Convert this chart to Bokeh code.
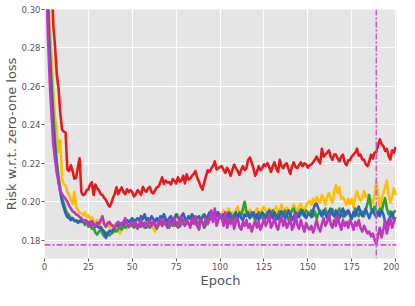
from bokeh.plotting import figure
from bokeh.models import Range1d, FixedTicker, PrintfTickFormatter, Span
from bokeh.embed import file_html
from bokeh.resources import INLINE

red = [
    0.400, 0.372, 0.346, 0.318, 0.292, 0.281, 0.266, 0.259, 0.246, 0.2375,
    0.2365, 0.236, 0.217, 0.216, 0.219, 0.216, 0.212, 0.2125, 0.218, 0.2226,
    0.205, 0.2035, 0.204, 0.206, 0.2065, 0.209, 0.2102, 0.2035, 0.209, 0.207,
    0.206, 0.204, 0.2035, 0.202, 0.201, 0.199, 0.1975, 0.199, 0.202, 0.204,
    0.2075, 0.204, 0.206, 0.2075, 0.205, 0.204, 0.2065, 0.205, 0.206, 0.205,
    0.2027, 0.204, 0.206, 0.205, 0.2036, 0.2077, 0.206, 0.2052, 0.207, 0.2077,
    0.205, 0.2044, 0.206, 0.2075, 0.208, 0.2102, 0.2127, 0.2093, 0.211, 0.210,
    0.2102, 0.209, 0.2118, 0.211, 0.2095, 0.2127, 0.2105, 0.211, 0.2135, 0.2095,
    0.2143, 0.2115, 0.212, 0.2135, 0.2145, 0.216, 0.2125, 0.2105, 0.208, 0.2063,
    0.210, 0.2135, 0.2164, 0.2155, 0.2174, 0.2185, 0.221, 0.2168, 0.2175, 0.218,
    0.2185, 0.2165, 0.215, 0.2177, 0.216, 0.2135, 0.2165, 0.2193, 0.2175, 0.216,
    0.214, 0.2165, 0.2185, 0.2165, 0.2175, 0.2218, 0.223, 0.2205, 0.2175, 0.2135,
    0.2155, 0.2185, 0.2165, 0.2175, 0.2195, 0.2185, 0.2201, 0.218, 0.2155, 0.2185,
    0.2205, 0.2175, 0.2155, 0.2218, 0.2185, 0.2175, 0.2195, 0.220, 0.217, 0.2145,
    0.2185, 0.2205, 0.218, 0.2175, 0.219, 0.2205, 0.2185, 0.220, 0.2195, 0.2178,
    0.219, 0.2195, 0.2205, 0.2218, 0.2235, 0.2215, 0.220, 0.2276, 0.2235, 0.2245,
    0.2255, 0.2268, 0.2235, 0.2218, 0.2245, 0.2245, 0.2225, 0.221, 0.2235, 0.2245,
    0.2205, 0.219, 0.2215, 0.2218, 0.2235, 0.2245, 0.2255, 0.2276, 0.224, 0.2245,
    0.222, 0.2218, 0.2195, 0.2185, 0.221, 0.2245, 0.2225, 0.2255, 0.226, 0.2295,
    0.2325, 0.230, 0.229, 0.2265, 0.2275, 0.224, 0.222, 0.2268, 0.2255, 0.2285,
]

yellow = [
    0.360, 0.315, 0.291, 0.276, 0.258, 0.244, 0.236, 0.226, 0.232, 0.212,
    0.209, 0.2085, 0.205, 0.2035, 0.201, 0.199, 0.2052, 0.1975, 0.196, 0.1945,
    0.194, 0.193, 0.1945, 0.192, 0.193, 0.191, 0.192, 0.190, 0.189, 0.1905,
    0.188, 0.189, 0.1915, 0.188, 0.1875, 0.189, 0.187, 0.1865, 0.188, 0.187,
    0.189, 0.186, 0.1835, 0.1865, 0.189, 0.187, 0.186, 0.188, 0.1875, 0.1885,
    0.188, 0.1895, 0.187, 0.189, 0.1905, 0.188, 0.1895, 0.1875, 0.1905, 0.189,
    0.1875, 0.186, 0.1845, 0.188, 0.1905, 0.1895, 0.192, 0.190, 0.1885, 0.1905,
    0.1915, 0.189, 0.1875, 0.1905, 0.1915, 0.1935, 0.1905, 0.189, 0.1915, 0.190,
    0.1885, 0.1915, 0.1925, 0.190, 0.1905, 0.1925, 0.191, 0.1895, 0.1915, 0.193,
    0.1915, 0.190, 0.1925, 0.1935, 0.1915, 0.194, 0.1925, 0.1945, 0.1925, 0.1935,
    0.1935, 0.1955, 0.1925, 0.194, 0.1965, 0.193, 0.1945, 0.1925, 0.1955, 0.1975,
    0.194, 0.1925, 0.1955, 0.1965, 0.1945, 0.1935, 0.196, 0.1945, 0.1925, 0.195,
    0.1965, 0.1945, 0.1935, 0.196, 0.1975, 0.1955, 0.194, 0.1965, 0.195, 0.1935,
    0.196, 0.1975, 0.1945, 0.1955, 0.1985, 0.196, 0.1945, 0.197, 0.1955, 0.1935,
    0.1965, 0.1985, 0.1965, 0.195, 0.1975, 0.199, 0.1965, 0.1955, 0.198, 0.1995,
    0.2005, 0.1985, 0.2015, 0.199, 0.2025, 0.2005, 0.1995, 0.2035, 0.2015, 0.1985,
    0.2025, 0.2045, 0.2015, 0.1995, 0.2055, 0.2085, 0.2045, 0.2075, 0.2015, 0.2025,
    0.2005, 0.1985, 0.2015, 0.199, 0.2015, 0.197, 0.2025, 0.2055, 0.2025, 0.2005,
    0.2015, 0.2055, 0.2025, 0.2035, 0.2005, 0.201, 0.199, 0.2035, 0.2102, 0.2035,
    0.1975, 0.2015, 0.2045, 0.2075, 0.211, 0.2035, 0.1995, 0.2025, 0.207, 0.2035,
]

green = [
    0.350, 0.305, 0.280, 0.262, 0.246, 0.232, 0.221, 0.213, 0.207, 0.202,
    0.199, 0.196, 0.194, 0.193, 0.1915, 0.1915, 0.1905, 0.190, 0.189, 0.1895,
    0.1895, 0.190, 0.188, 0.1895, 0.187, 0.1885, 0.186, 0.1865, 0.184, 0.183,
    0.1845, 0.1855, 0.1835, 0.182, 0.184, 0.1835, 0.1825, 0.1835, 0.184, 0.1855,
    0.1845, 0.186, 0.1865, 0.1855, 0.1875, 0.1865, 0.188, 0.187, 0.1885, 0.1875,
    0.1865, 0.1875, 0.186, 0.188, 0.187, 0.1885, 0.1865, 0.189, 0.1875, 0.1865,
    0.1885, 0.1895, 0.1875, 0.186, 0.188, 0.1895, 0.1875, 0.1885, 0.190, 0.1875,
    0.1865, 0.189, 0.1895, 0.1875, 0.188, 0.1895, 0.187, 0.1885, 0.190, 0.1905,
    0.1885, 0.189, 0.1875, 0.1895, 0.191, 0.1885, 0.1875, 0.1895, 0.1905, 0.189,
    0.1865, 0.188, 0.1905, 0.1925, 0.191, 0.1935, 0.1915, 0.1945, 0.1925, 0.193,
    0.191, 0.1925, 0.1905, 0.1895, 0.1925, 0.194, 0.1915, 0.1905, 0.193, 0.1915,
    0.1945, 0.1925, 0.1965, 0.200, 0.195, 0.1935, 0.1915, 0.1945, 0.1925, 0.1905,
    0.193, 0.1945, 0.1915, 0.1935, 0.1905, 0.1925, 0.1945, 0.1915, 0.1935, 0.1955,
    0.1925, 0.191, 0.1935, 0.195, 0.1925, 0.1935, 0.1955, 0.1925, 0.1905, 0.1935,
    0.1955, 0.1965, 0.1935, 0.192, 0.1945, 0.196, 0.1935, 0.1925, 0.1955, 0.1945,
    0.1935, 0.1955, 0.1925, 0.195, 0.1915, 0.1935, 0.1955, 0.1925, 0.194, 0.1965,
    0.1935, 0.1915, 0.1945, 0.196, 0.193, 0.1915, 0.1945, 0.1965, 0.1935, 0.192,
    0.195, 0.1935, 0.1955, 0.1925, 0.191, 0.194, 0.1965, 0.1935, 0.1925, 0.1955,
    0.1945, 0.1925, 0.196, 0.199, 0.2035, 0.1965, 0.1945, 0.1975, 0.1955, 0.193,
    0.1965, 0.1945, 0.199, 0.2019, 0.1965, 0.1935, 0.195, 0.1925, 0.1945, 0.1955,
]

blue = [
    0.340, 0.295, 0.275, 0.255, 0.238, 0.226, 0.217, 0.210, 0.205, 0.200,
    0.197, 0.194, 0.192, 0.1915, 0.1905, 0.1915, 0.190, 0.1905, 0.1895, 0.190,
    0.1905, 0.1895, 0.1905, 0.190, 0.189, 0.1895, 0.188, 0.1885, 0.187, 0.1875,
    0.1865, 0.187, 0.1855, 0.1845, 0.1812, 0.1835, 0.185, 0.1845, 0.1855, 0.1865,
    0.188, 0.1875, 0.1885, 0.189, 0.188, 0.1895, 0.1905, 0.1895, 0.1905, 0.1915,
    0.190, 0.1905, 0.1915, 0.190, 0.1925, 0.191, 0.1935, 0.1905, 0.1915, 0.190,
    0.1925, 0.191, 0.1895, 0.1915, 0.190, 0.1925, 0.1915, 0.1935, 0.191, 0.1895,
    0.1915, 0.1925, 0.190, 0.1915, 0.1935, 0.192, 0.1905, 0.1925, 0.194, 0.1915,
    0.1905, 0.1925, 0.191, 0.1935, 0.192, 0.1905, 0.1915, 0.1925, 0.1905, 0.192,
    0.1935, 0.191, 0.1925, 0.1945, 0.192, 0.1915, 0.1935, 0.1925, 0.1945, 0.1925,
    0.192, 0.1935, 0.1915, 0.1925, 0.1945, 0.1915, 0.1905, 0.193, 0.1945, 0.192,
    0.1935, 0.1915, 0.1905, 0.1935, 0.1925, 0.1945, 0.1915, 0.193, 0.1945, 0.192,
    0.1935, 0.1905, 0.1925, 0.1945, 0.1935, 0.1915, 0.1925, 0.1955, 0.193, 0.1915,
    0.1945, 0.1925, 0.191, 0.193, 0.195, 0.1935, 0.1915, 0.1925, 0.1955, 0.1935,
    0.1905, 0.1925, 0.1945, 0.1935, 0.192, 0.194, 0.1955, 0.193, 0.1915, 0.1935,
    0.1935, 0.192, 0.1955, 0.1985, 0.199, 0.1965, 0.1945, 0.1925, 0.1955, 0.1935,
    0.1915, 0.195, 0.1965, 0.1935, 0.1925, 0.1955, 0.1935, 0.1915, 0.1945, 0.1965,
    0.1925, 0.1945, 0.1955, 0.1935, 0.1915, 0.1945, 0.1925, 0.1955, 0.1975, 0.194,
    0.1925, 0.1945, 0.1965, 0.1935, 0.1915, 0.1945, 0.196, 0.1935, 0.192, 0.1945,
    0.1925, 0.1955, 0.1935, 0.1895, 0.1875, 0.1905, 0.1925, 0.1945, 0.1905, 0.192,
]

magenta = [
    0.318, 0.285, 0.262, 0.245, 0.230, 0.222, 0.215, 0.2105, 0.2055, 0.204,
    0.2025, 0.2015, 0.200, 0.198, 0.1965, 0.195, 0.1945, 0.1935, 0.193, 0.192,
    0.1915, 0.190, 0.1905, 0.1885, 0.1895, 0.1875, 0.190, 0.1885, 0.1875, 0.189,
    0.1885, 0.1905, 0.1925, 0.1885, 0.187, 0.189, 0.1895, 0.188, 0.1875, 0.1865,
    0.1885, 0.1895, 0.1885, 0.1875, 0.1895, 0.1915, 0.1885, 0.187, 0.1885, 0.1895,
    0.1875, 0.1895, 0.186, 0.188, 0.1905, 0.1875, 0.189, 0.1865, 0.1885, 0.1905,
    0.1875, 0.1895, 0.188, 0.1865, 0.1895, 0.191, 0.1875, 0.1905, 0.1885, 0.1865,
    0.1905, 0.1895, 0.1875, 0.1915, 0.1885, 0.1865, 0.190, 0.1925, 0.1885, 0.1875,
    0.1905, 0.189, 0.1865, 0.191, 0.1885, 0.1925, 0.1875, 0.1855, 0.1905, 0.1895,
    0.187, 0.1915, 0.1885, 0.1905, 0.1955, 0.1895, 0.1965, 0.1875, 0.1905, 0.1935,
    0.1915, 0.1875, 0.1945, 0.1865, 0.1905, 0.1885, 0.1925, 0.186, 0.1895, 0.1915,
    0.187, 0.1855, 0.1895, 0.1875, 0.1905, 0.1865, 0.1885, 0.1845, 0.1875, 0.1905,
    0.1865, 0.1895, 0.1855, 0.188, 0.1915, 0.1875, 0.1895, 0.1935, 0.1865, 0.1885,
    0.1915, 0.1875, 0.1855, 0.1895, 0.1925, 0.1875, 0.1905, 0.1865, 0.1885, 0.1915,
    0.1855, 0.1875, 0.1935, 0.188, 0.186, 0.1905, 0.1875, 0.1845, 0.189, 0.1865,
    0.1855, 0.1875, 0.184, 0.187, 0.1905, 0.1865, 0.1845, 0.1885, 0.1915, 0.1875,
    0.1895, 0.1935, 0.1885, 0.1865, 0.1905, 0.1875, 0.1925, 0.1885, 0.1855, 0.1905,
    0.1875, 0.1895, 0.1865, 0.1905, 0.1885, 0.1855, 0.1895, 0.1875, 0.1905, 0.1865,
    0.1845, 0.1875, 0.1855, 0.1835, 0.1845, 0.182, 0.1835, 0.1805, 0.178, 0.1825,
    0.1865, 0.1815, 0.1855, 0.1905, 0.1835, 0.1875, 0.1915, 0.1865, 0.1895, 0.192,
]

best_epoch = 189
best_risk = 0.1776

x_ticks = [0, 25, 50, 75, 100, 125, 150, 175, 200]
y_ticks = [0.18, 0.20, 0.22, 0.24, 0.26, 0.28, 0.30]

series = [
    (red, "#e41a1c"),
    (yellow, "#ffbf00"),
    (green, "#2ca02c"),
    (blue, "#2f5fbf"),
    (magenta, "#bf35bf"),
]

FONT = "DejaVu Sans"

p = figure(width=399, height=290, output_backend="svg", toolbar_location=None,
           x_range=Range1d(0, 200.5), y_range=Range1d(0.1705, 0.30),
           min_border_top=9, min_border_right=3, min_border_left=0, min_border_bottom=0)

p.background_fill_color = "#e5e5e5"
p.border_fill_color = "white"
p.outline_line_color = None

for vals, col in series:
    xs = list(range(1, len(vals) + 1))
    p.line(xs, vals, line_color=col, line_width=2.6, line_join="round")

vline = Span(location=best_epoch, dimension="height", line_color="#cc5acc",
             line_width=1.6, line_dash="6 2 2 2")
hline = Span(location=best_risk, dimension="width", line_color="#cc5acc",
             line_width=1.6, line_dash="6 2 2 2")
p.add_layout(vline)
p.add_layout(hline)

p.xaxis.ticker = FixedTicker(ticks=x_ticks)
p.yaxis.ticker = FixedTicker(ticks=y_ticks)
p.yaxis.formatter = PrintfTickFormatter(format="%.2f")

p.grid.grid_line_color = "white"
p.grid.grid_line_width = 1.1

for ax in (p.xaxis[0], p.yaxis[0]):
    ax.axis_line_color = None
    ax.major_tick_line_color = "#555555"
    ax.major_tick_out = 3
    ax.major_tick_in = 0
    ax.minor_tick_line_color = None
    ax.major_label_text_font = FONT
    ax.major_label_text_font_size = "8.5px"
    ax.major_label_text_color = "#555555"
    ax.axis_label_text_font = FONT
    ax.axis_label_text_font_size = "13px"
    ax.axis_label_text_font_style = "normal"
    ax.axis_label_text_color = "#555555"

p.xaxis.axis_label = "Epoch"
p.yaxis.axis_label = "Risk w.r.t. zero-one loss"
p.xaxis.major_label_standoff = 1
p.xaxis.axis_label_standoff = 0
p.yaxis.major_label_standoff = 1
p.yaxis.axis_label_standoff = 0

open("out.html", "w").write(file_html(p, INLINE))
